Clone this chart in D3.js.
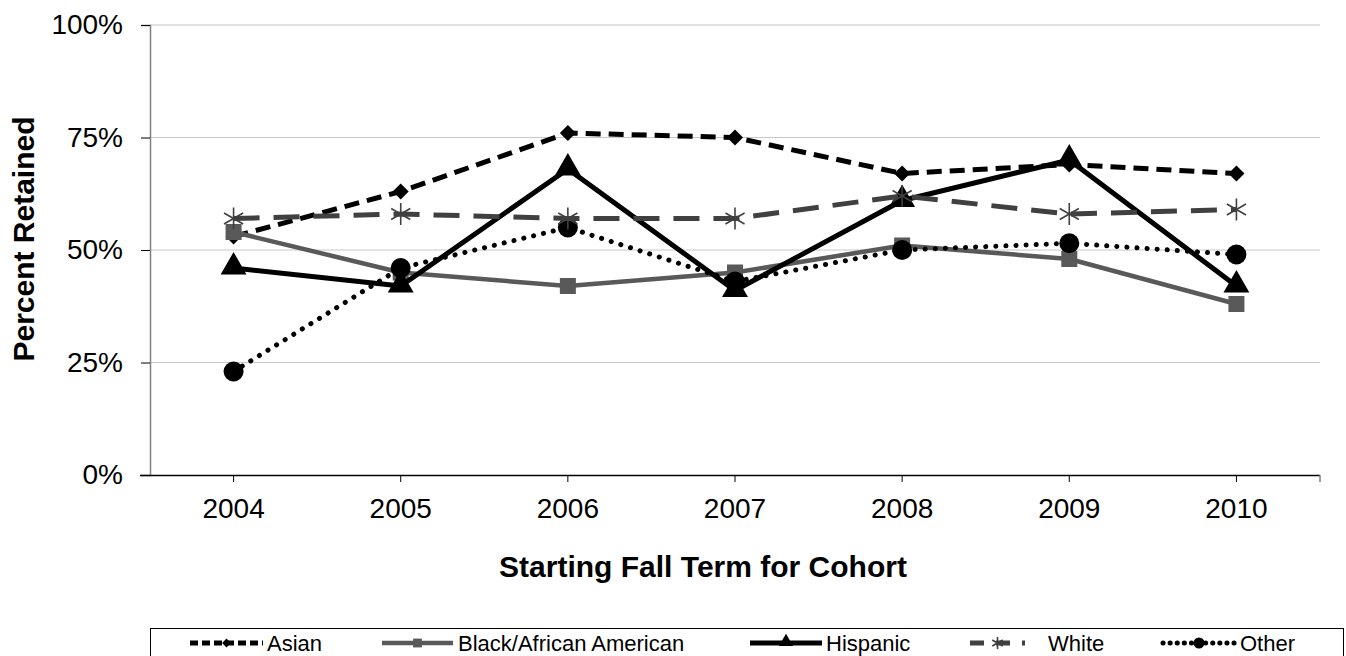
<!DOCTYPE html>
<html><head><meta charset="utf-8">
<script src="https://cdn.jsdelivr.net/npm/d3@7"></script>
<style>body{margin:0;background:#fff;font-family:"Liberation Sans",Arial,sans-serif}</style>
</head><body><svg id="c" width="1346" height="656"></svg>
<script>
const years = ["2004","2005","2006","2007","2008","2009","2010"];
const yTicks = [0,25,50,75,100];
const asian = [53,63,76,75,67,69,67];
const black = [54,45,42,45,51,48,38];
const hispanic = [46,42,68,41,61,70,42];
const white = [57,58,57,57,62,58,59];
const other = [23,46,55,43,50,51.5,49];

const series = [
  {name:"Asian", values:asian, color:"#000", width:5, dash:"15,8", ldash:"8,4", marker:"diamond"},
  {name:"Black/African American", values:black, color:"#595959", width:4.5, dash:null, marker:"square"},
  {name:"Hispanic", values:hispanic, color:"#000", width:5, dash:null, marker:"triangle"},
  {name:"White", values:white, color:"#404040", width:5, dash:"26,14", ldash:"14,12", marker:"star"},
  {name:"Other", values:other, color:"#000", width:5, dash:"0.1,10", ldash:"0.1,7", cap:"round", marker:"circle"}
];

const svg = d3.select("#c");
const L=150, R=1320, T=25, B=475;
const x = d3.scaleBand().domain(years).range([L,R]);
const y = d3.scaleLinear().domain([0,100]).range([B,T]);
const cx = d => x(d)+x.bandwidth()/2;
const FF = "Liberation Sans, Arial, sans-serif";

// gridlines
svg.append("g").selectAll("line").data(yTicks.filter(d=>d>0)).join("line")
  .attr("x1",L).attr("x2",R).attr("y1",d=>y(d)).attr("y2",d=>y(d))
  .attr("stroke","#c8c8c8").attr("stroke-width",1);

// y axis
const ya = svg.append("g").attr("transform",`translate(${L},0)`)
  .call(d3.axisLeft(y).tickValues(yTicks).tickFormat(d=>d+"%").tickSize(9).tickPadding(18));
ya.select(".domain").attr("stroke","#808080").attr("stroke-width",1.5);
ya.selectAll(".tick line").attr("stroke","#000");
ya.selectAll("text").attr("font-size",28).attr("font-family",FF).attr("fill","#000");

// x axis
const xa = svg.append("g").attr("transform",`translate(0,${B})`)
  .call(d3.axisBottom(x).tickSize(7).tickPadding(16).tickSizeOuter(0));
xa.select(".domain").attr("stroke","#000").attr("stroke-width",1.5).attr("d",`M${L-10},0.5H${R}`);
xa.selectAll("text").attr("font-size",28).attr("font-family",FF).attr("fill","#000");
xa.append("line").attr("x1",R).attr("x2",R).attr("y1",0).attr("y2",7).attr("stroke","#808080").attr("stroke-width",1.5);

// titles
svg.append("text").attr("x",703).attr("y",577).attr("text-anchor","middle")
  .attr("font-size",30).attr("font-weight","bold").attr("font-family",FF)
  .text("Starting Fall Term for Cohort");
svg.append("text").attr("transform",`translate(34,239) rotate(-90)`).attr("text-anchor","middle")
  .attr("font-size",30).attr("font-weight","bold").attr("font-family",FF)
  .text("Percent Retained");

function drawMarker(g, type, px, py, color, s){
  s = s||1;
  if(type==="diamond"){
    const r=8*s;
    g.append("path").attr("d",`M${px},${py-r}L${px+r},${py}L${px},${py+r}L${px-r},${py}Z`).attr("fill",color);
  } else if(type==="square"){
    g.append("rect").attr("x",px-8*s).attr("y",py-8*s).attr("width",16*s).attr("height",16*s).attr("fill",color);
  } else if(type==="triangle"){
    g.append("path").attr("d",d3.symbol(d3.symbolTriangle, 290*s*s)()).attr("transform",`translate(${px},${py-1})`).attr("fill",color);
  } else if(type==="star"){
    const r=11*s;
    const gg=g.append("g").attr("stroke",color).attr("stroke-width",1.6);
    gg.append("line").attr("x1",px).attr("x2",px).attr("y1",py-r).attr("y2",py+r);
    gg.append("line").attr("x1",px-r*0.87).attr("x2",px+r*0.87).attr("y1",py-r*0.5).attr("y2",py+r*0.5);
    gg.append("line").attr("x1",px-r*0.87).attr("x2",px+r*0.87).attr("y1",py+r*0.5).attr("y2",py-r*0.5);
  } else if(type==="circle"){
    g.append("circle").attr("cx",px).attr("cy",py).attr("r",10*s).attr("fill",color);
  }
}

const line = d3.line().x((d,i)=>cx(years[i])).y(d=>y(d));
const drawOrder = [0,1,4,2,3];
drawOrder.forEach(k=>{
  const s = series[k];
  const g = svg.append("g");
  g.append("path").attr("d",line(s.values)).attr("fill","none").attr("stroke",s.color)
    .attr("stroke-width",s.width).attr("stroke-dasharray",s.dash).attr("stroke-linecap",s.cap||"butt")
    .attr("stroke-linejoin","round");
  s.values.forEach((v,i)=>drawMarker(g,s.marker,cx(years[i]),y(v),s.color,1));
});

// legend
const lg = svg.append("g");
lg.append("rect").attr("x",150.5).attr("y",628.5).attr("width",1193).attr("height",40).attr("fill","#fff").attr("stroke","#000").attr("stroke-width",1);
const legPos = [[190,263,267],[382,453,458],[750,822,826],[970,1025,1048],[1163,1235,1240]];
const ly = 643;
series.forEach((s,i)=>{
  const [x0,x1,tx]=legPos[i];
  lg.append("line").attr("x1",x0).attr("x2",x1).attr("y1",ly).attr("y2",ly).attr("stroke",s.color)
    .attr("stroke-width",s.width).attr("stroke-dasharray",s.ldash||null)
    .attr("stroke-linecap",s.cap||"butt");
  drawMarker(lg,s.marker,(x0+x1)/2,ly,s.color,0.55);
  lg.append("text").attr("x",tx).attr("y",ly+8).attr("font-size",22).attr("font-family",FF).text(s.name);
});
</script></body></html>
